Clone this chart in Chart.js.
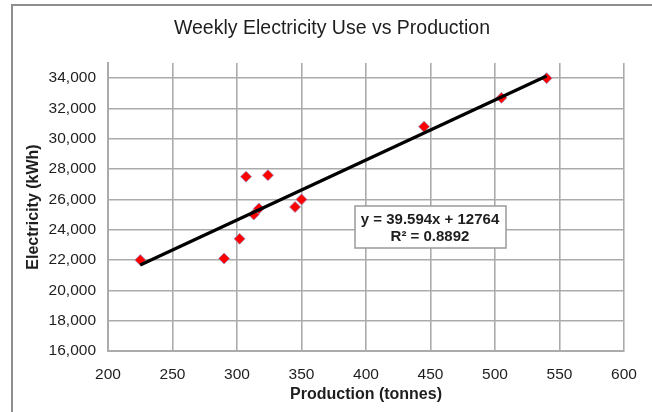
<!DOCTYPE html>
<html>
<head>
<meta charset="utf-8">
<script src="https://cdn.jsdelivr.net/npm/chart.js@4"></script>
<style>
  html, body { margin: 0; padding: 0; background: #ffffff; }
  #wrap { width: 652px; height: 412px; position: relative; }
</style>
</head>
<body>
<div id="wrap"><canvas id="c" width="652" height="412"></canvas></div>
<script>
// ---- data ----
const production = [225, 290, 302, 307, 313, 317, 324, 345, 350, 445, 505, 540];
const electricity = [22000, 22100, 23400, 27500, 25000, 25400, 27600, 25500, 26000, 30800, 32700, 34000];
const xTicks = [200, 250, 300, 350, 400, 450, 500, 550, 600];
const yTicks = [16000, 18000, 20000, 22000, 24000, 26000, 28000, 30000, 32000, 34000];
const trendSlope = 39.594;
const trendIntercept = 12764;
const rSquared = 0.8892;
const chartTitle = 'Weekly Electricity Use vs Production';
const xTitle = 'Production (tonnes)';
const yTitle = 'Electricity (kWh)';

const points = production.map((x, i) => ({ x: x, y: electricity[i] }));
const xMin = Math.min(...production), xMax = Math.max(...production);
const trend = [xMin, xMax].map(x => ({ x: x, y: trendSlope * x + trendIntercept }));

const GRID = '#ababab';
const TXT = '#1e1e1e';

const decor = {
  id: 'decor',
  beforeDraw(chart) {
    const ctx = chart.ctx;
    ctx.save();
    ctx.fillStyle = '#ffffff';
    ctx.fillRect(0, 0, chart.width, chart.height);
    ctx.strokeStyle = '#8e8e8e';
    ctx.lineWidth = 2;
    ctx.strokeRect(12, 5, 700, 500);
    ctx.fillStyle = TXT;
    ctx.font = '19.5px "Liberation Sans", Arial, sans-serif';
    ctx.textAlign = 'center';
    ctx.textBaseline = 'middle';
    ctx.fillText(chartTitle, 332, 29);
    ctx.restore();
  },
  afterDraw(chart) {
    const ctx = chart.ctx;
    ctx.save();
    ctx.fillStyle = '#ffffff';
    ctx.fillRect(355, 206, 151, 42);
    ctx.strokeStyle = '#9a9a9a';
    ctx.lineWidth = 1.5;
    ctx.strokeRect(355, 206, 151, 42);
    ctx.fillStyle = TXT;
    ctx.font = 'bold 15px "Liberation Sans", Arial, sans-serif';
    ctx.textAlign = 'center';
    ctx.textBaseline = 'middle';
    ctx.fillText('y = ' + trendSlope.toFixed(3) + 'x + ' + trendIntercept, 430, 220);
    ctx.fillText('R\u00B2 = ' + rSquared.toFixed(4), 430, 237);
    ctx.restore();
  }
};

new Chart(document.getElementById('c'), {
  type: 'scatter',
  data: {
    datasets: [
      {
        label: 'Trend',
        data: trend,
        showLine: true,
        borderColor: '#000000',
        borderWidth: 3.2,
        pointRadius: 0,
        pointHoverRadius: 0,
        fill: false,
        order: 0
      },
      {
        label: 'Weeks',
        data: points,
        pointStyle: 'rectRot',
        pointRadius: 5.5,
        backgroundColor: '#ff0000',
        borderColor: '#9a8fc0',
        borderWidth: 0.8,
        order: 1
      }
    ]
  },
  options: {
    responsive: false,
    animation: false,
    devicePixelRatio: 1,
    layout: { padding: { top: 63, right: 28, bottom: 0, left: 0 } },
    plugins: {
      legend: { display: false },
      title: { display: false },
      tooltip: { enabled: false }
    },
    scales: {
      x: {
        type: 'linear',
        min: 200,
        max: 600,
        afterBuildTicks: s => { s.ticks = xTicks.map(v => ({ value: v })); },
        afterFit: s => { s.height = 61; },
        grid: { color: GRID, lineWidth: 1.6, drawTicks: false },
        border: { color: GRID, width: 2 },
        ticks: {
          padding: 14,
          color: TXT,
          font: { family: '"Liberation Sans", Arial, sans-serif', size: 15.5 },
          maxRotation: 0,
          autoSkip: false
        },
        title: {
          display: true,
          text: xTitle,
          color: TXT,
          font: { family: '"Liberation Sans", Arial, sans-serif', size: 16, weight: 'bold' },
          padding: { top: 0, bottom: 8 }
        }
      },
      y: {
        type: 'linear',
        min: 16000,
        max: 35000,
        afterBuildTicks: s => { s.ticks = yTicks.map(v => ({ value: v })); },
        afterFit: s => { s.width = 108; },
        grid: { color: GRID, lineWidth: 1.6, drawTicks: false },
        border: { color: GRID, width: 2 },
        ticks: {
          padding: 12,
          color: TXT,
          font: { family: '"Liberation Sans", Arial, sans-serif', size: 15.5 },
          autoSkip: false,
          callback: v => Number(v).toLocaleString('en-US')
        },
        title: {
          display: true,
          text: yTitle,
          color: TXT,
          font: { family: '"Liberation Sans", Arial, sans-serif', size: 16, weight: 'bold' },
          padding: { top: 24, bottom: 0 }
        }
      }
    }
  },
  plugins: [decor]
});
</script>
</body>
</html>
